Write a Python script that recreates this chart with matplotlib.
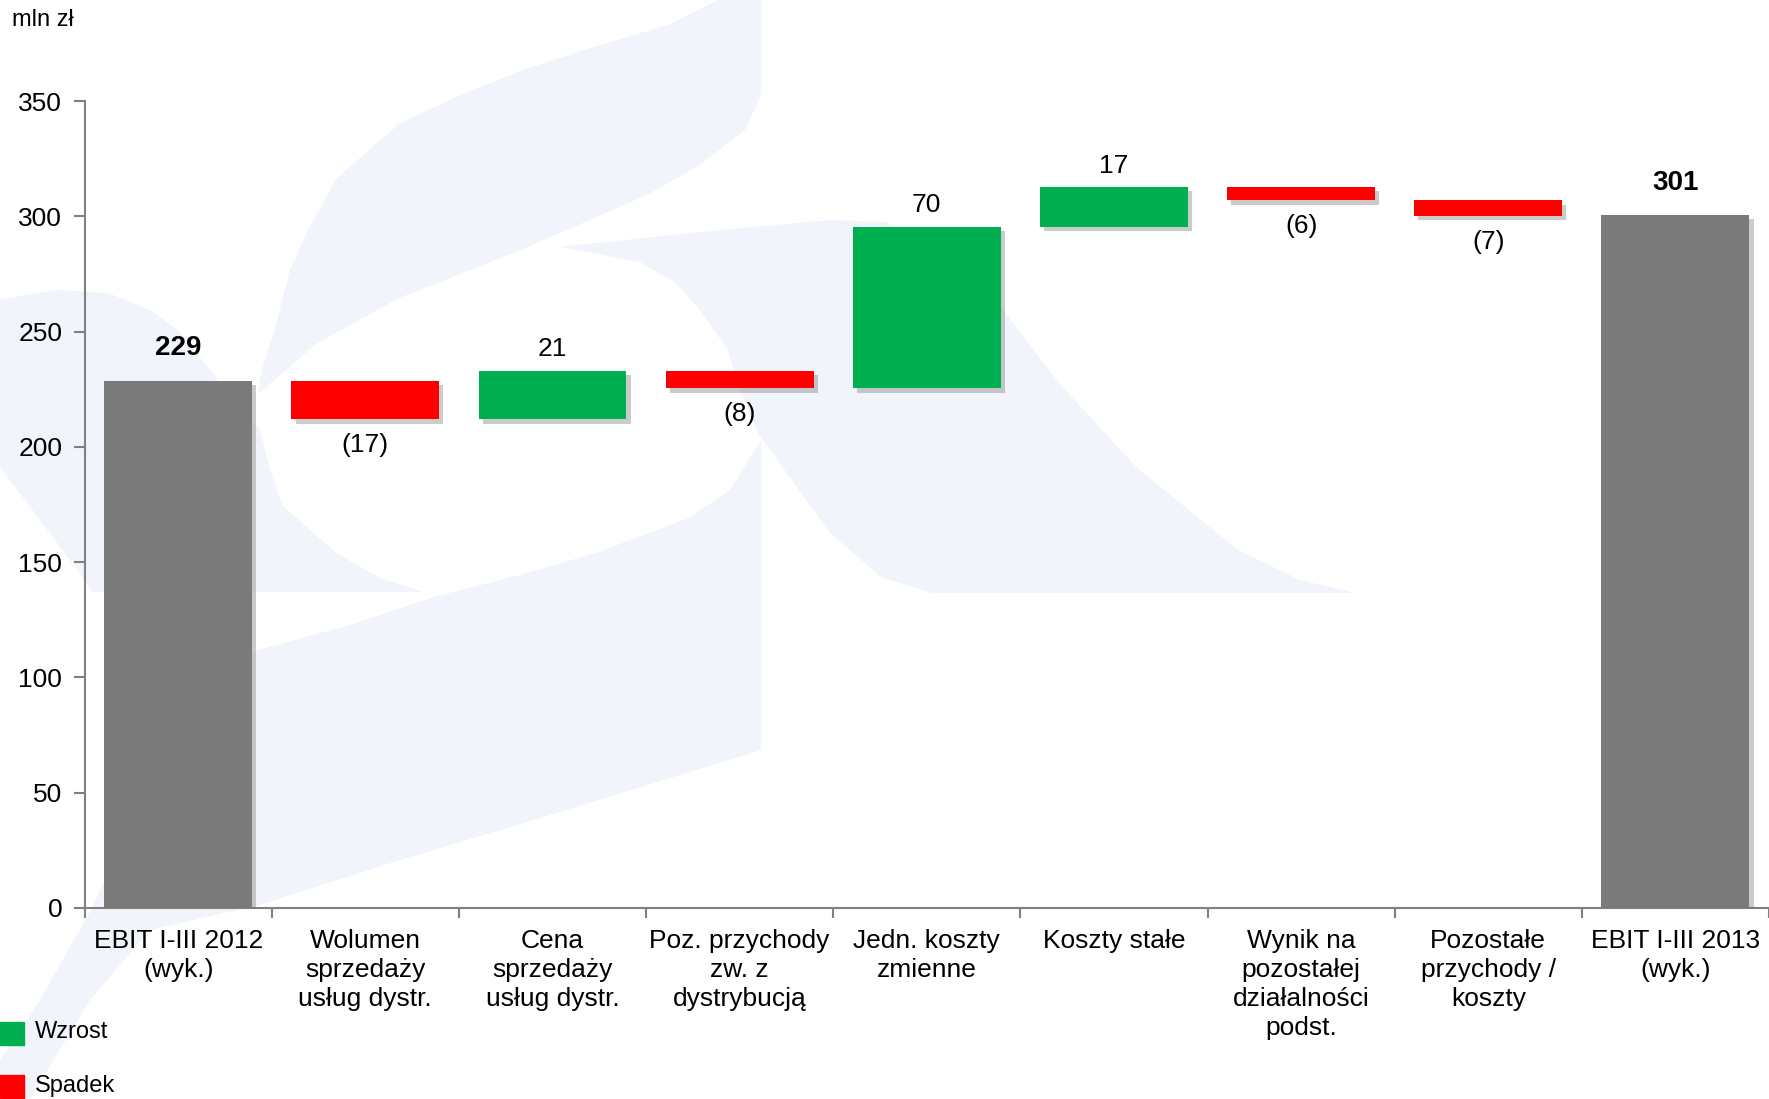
import matplotlib.pyplot as plt
import matplotlib.patheffects as pe
import matplotlib.patches as mpatches
import numpy as np

plt.rcParams['font.family'] = ['Liberation Sans', 'DejaVu Sans']

kategorie = ['EBIT I-III 2012\n(wyk.)', 'Wolumen\nsprzedaży\nusług dystr.',
             'Cena\nsprzedaży\nusług dystr.', 'Poz. przychody\nzw. z\ndystrybucją',
             'Jedn. koszty\nzmienne', 'Koszty stałe', 'Wynik na\npozostałej\ndziałalności\npodst.',
             'Pozostałe\nprzychody /\nkoszty', 'EBIT I-III 2013\n(wyk.)']
start = 228.8
zmiany = [-16.9, 21.1, -7.6, 69.9, 17.3, -5.7, -6.6]
koniec = 300.6

szary = '#7a7a7a'
zielony = '#00b050'
czerwony = '#ff0000'
tlo_logo = '#f2f4fb'

W, H = 1769, 1099
fig = plt.figure(figsize=(W / 100, H / 100), dpi=100)

# blady znak wodny w tle (piksele obrazu, y w dol)
logo = [
    [(718, 0), (761, 0), (761, 95), (745, 130), (700, 165), (647, 195), (523, 249), (399, 298),
     (316, 344), (258, 394), (262, 370), (274, 332), (290, 270), (307, 232), (337, 178),
     (399, 124), (460, 95), (523, 70), (600, 45), (668, 25)],
    [(0, 299), (60, 290), (108, 293), (150, 310), (179, 331), (210, 370), (240, 410), (260, 429),
     (270, 470), (282, 505), (336, 553), (380, 578), (423, 592), (92, 592), (81, 575),
     (40, 520), (0, 467)],
    [(560, 247), (700, 232), (830, 220), (886, 222), (950, 260), (1003, 310), (1059, 383),
     (1136, 467), (1238, 550), (1300, 580), (1355, 593), (932, 593), (881, 577), (830, 533),
     (794, 483), (758, 433), (740, 390), (728, 350), (700, 310), (676, 283), (640, 262)],
    [(761, 440), (730, 490), (689, 518), (596, 553), (520, 575), (434, 597), (350, 625),
     (255, 651), (160, 760), (92, 908), (40, 1000), (0, 1060), (0, 1099), (30, 1099),
     (90, 1000), (150, 930), (259, 905), (400, 860), (550, 815), (761, 750)],
]
for ksztalt in logo:
    pts = [(x / W, 1 - y / H) for x, y in ksztalt]
    fig.patches.append(mpatches.Polygon(pts, closed=True, transform=fig.transFigure,
                                        facecolor=tlo_logo, edgecolor='none', zorder=-5))

ax = fig.add_axes([0.0478, 0.1738, 0.9522, 0.7342])
ax.patch.set_alpha(0)

cien = [pe.SimplePatchShadow(offset=(3, -3), shadow_rgbFace='#555555', alpha=0.3), pe.Normal()]
szer = 0.79

# slupki poczatkowy i koncowy
for i, v in [(0, start), (8, koniec)]:
    b = ax.bar(i, v, width=szer, color=szary, zorder=3)
    b[0].set_path_effects(cien)
    ax.annotate('{:.0f}'.format(v), (i, v), xytext=(0, 14), textcoords='offset points',
                ha='center', va='bottom', fontsize=20, fontweight='bold')

# zmiany
poziom = start
for k, d in enumerate(zmiany):
    i = k + 1
    kolor = zielony if d > 0 else czerwony
    b = ax.bar(i, d, bottom=poziom, width=szer, color=kolor, zorder=3)
    b[0].set_path_effects(cien)
    if d > 0:
        ax.annotate('{:.0f}'.format(d), (i, poziom + d), xytext=(0, 7), textcoords='offset points',
                    ha='center', va='bottom', fontsize=19)
    else:
        ax.annotate('({:.0f})'.format(-d), (i, poziom + d), xytext=(0, -10), textcoords='offset points',
                    ha='center', va='top', fontsize=19)
    poziom += d

ax.set_xlim(-0.5, 8.5)
ax.set_ylim(0, 350)
ax.set_yticks(np.arange(0, 351, 50))
ax.set_xticks(np.arange(-0.5, 9, 1))
ax.set_xticklabels([])
ax.set_xticks(np.arange(9), minor=True)
ax.set_xticklabels(kategorie, minor=True, fontsize=19, linespacing=1.27)
ax.tick_params(axis='x', which='minor', length=0, pad=15)
ax.tick_params(axis='x', which='major', length=7, width=1.5, color='#808080')
ax.tick_params(axis='y', length=8, width=1.5, color='#808080', labelsize=19, pad=8)
for s in ['top', 'right']:
    ax.spines[s].set_visible(False)
for s in ['left', 'bottom']:
    ax.spines[s].set_color('#808080')
    ax.spines[s].set_linewidth(1.5)

fig.text(0.007, 0.982, 'mln zł', fontsize=17, va='center', ha='left')

# legenda
fig.patches.append(mpatches.Rectangle((0, 1 - 1045 / H), 24 / W, 23 / H,
                                      transform=fig.transFigure, color=zielony))
fig.patches.append(mpatches.Rectangle((0, 1 - 1098 / H), 24 / W, 23 / H,
                                      transform=fig.transFigure, color=czerwony))
fig.text(35 / W, 1 - 1032 / H, 'Wzrost', fontsize=17, va='center')
fig.text(35 / W, 1 - 1086 / H, 'Spadek', fontsize=17, va='center')

plt.savefig('out.png', dpi=100)
